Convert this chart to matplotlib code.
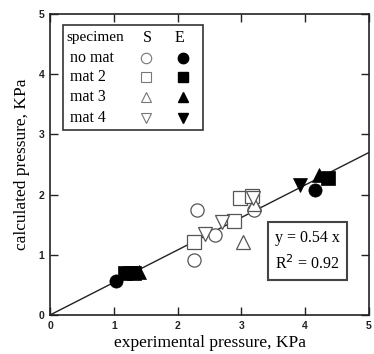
import matplotlib
matplotlib.use("Agg")
import matplotlib.pyplot as plt
import numpy as np
from matplotlib.patches import Rectangle

# ---- data ----
S_nomat_x = [2.31, 2.25, 2.59, 3.20]
S_nomat_y = [1.74, 0.91, 1.33, 1.74]
S_mat2_x = [2.26, 2.88, 2.98, 3.17]
S_mat2_y = [1.21, 1.56, 1.95, 1.97]
S_mat3_x = [3.03, 3.19]
S_mat3_y = [1.21, 1.84]
S_mat4_x = [2.43, 2.69, 3.18]
S_mat4_y = [1.35, 1.55, 1.95]

E_nomat_x = [1.03, 4.15]
E_nomat_y = [0.57, 2.07]
E_mat2_x = [1.18, 1.31, 4.35]
E_mat2_y = [0.69, 0.70, 2.28]
E_mat3_x = [1.40, 4.22]
E_mat3_y = [0.72, 2.32]
E_mat4_x = [1.25, 3.92]
E_mat4_y = [0.70, 2.16]

slope = 0.54
r2 = 0.92
specimens = ["no mat", "mat 2", "mat 3", "mat 4"]
markers = ["o", "s", "^", "v"]
ticks = [0, 1, 2, 3, 4, 5]

serif = ["Liberation Serif", "DejaVu Serif"]
sans = ["Liberation Sans", "DejaVu Sans"]

fig = plt.figure(figsize=(3.74, 3.54), dpi=100)
ax = fig.add_axes([50/374, 39/354, 319/374, 301/354])
ax.set_xlim(0, 5)
ax.set_ylim(0, 5)

# fit line
xl = np.array([0, 5])
ax.plot(xl, slope * xl, color="#222222", lw=1.0, zorder=2)

S_sets = [(S_nomat_x, S_nomat_y), (S_mat2_x, S_mat2_y), (S_mat3_x, S_mat3_y), (S_mat4_x, S_mat4_y)]
E_sets = [(E_nomat_x, E_nomat_y), (E_mat2_x, E_mat2_y), (E_mat3_x, E_mat3_y), (E_mat4_x, E_mat4_y)]
for (x, y), m in zip(S_sets, markers):
    ax.plot(x, y, ls="none", marker=m, ms=9.5, mfc="white", mec="#555555", mew=0.9, zorder=3)
for (x, y), m in zip(E_sets, markers):
    ax.plot(x, y, ls="none", marker=m, ms=9.5, mfc="black", mec="black", mew=0.5, zorder=4)

# axes styling
for s in ax.spines.values():
    s.set_linewidth(1.2)
    s.set_color("#222222")
ax.set_xticks(ticks)
ax.set_yticks(ticks)
ax.tick_params(direction="in", length=6, width=1.0, top=True, right=True,
               labelsize=7.5, pad=4, colors="#222222")
for lab in ax.get_xticklabels() + ax.get_yticklabels():
    lab.set_fontweight("bold")
    lab.set_family(sans)
ax.set_xlabel("experimental pressure, KPa", fontsize=12.5, family=serif, labelpad=3)
ax.set_ylabel("calculated pressure, KPa", fontsize=12.5, family=serif, labelpad=6)

# legend box (axes coords)
def ax_x(px):
    return (px - 50) / 319
def ax_y(py):
    return (315 - py) / 301

ax.add_patch(Rectangle((ax_x(63), ax_y(130)), ax_x(203) - ax_x(63), ax_y(25) - ax_y(130),
                       transform=ax.transAxes, fill=True, fc="white", ec="#333333", lw=1.2, zorder=5))
rows_y = [57.7, 76.7, 96.7, 118]
ax.text(ax_x(66), ax_y(38), "specimen", transform=ax.transAxes, family=serif, fontsize=11,
        va="center", ha="left", zorder=6)
ax.text(ax_x(147), ax_y(38), "S", transform=ax.transAxes, family=serif, fontsize=11.5,
        va="center", ha="center", zorder=6)
ax.text(ax_x(179), ax_y(38), "E", transform=ax.transAxes, family=serif, fontsize=11.5,
        va="center", ha="center", zorder=6)
for name, m, ry in zip(specimens, markers, rows_y):
    ax.text(ax_x(70), ax_y(ry), name, transform=ax.transAxes, family=serif, fontsize=11.5,
            va="center", ha="left", zorder=6)
    ax.plot([ax_x(146)], [ax_y(ry)], transform=ax.transAxes, marker=m, ms=7.5, mfc="white",
            mec="#777777", mew=0.8, ls="none", zorder=6, clip_on=False)
    ax.plot([ax_x(183)], [ax_y(ry)], transform=ax.transAxes, marker=m, ms=7.5, mfc="black",
            mec="black", ls="none", zorder=6, clip_on=False)

# equation box
ax.add_patch(Rectangle((ax_x(268), ax_y(280)), ax_x(347) - ax_x(268), ax_y(222) - ax_y(280),
                       transform=ax.transAxes, fc="white", ec="#444444", lw=1.5, zorder=5))
ax.text(ax_x(307.5), ax_y(238), "y = %.2f x" % slope, transform=ax.transAxes, family=serif,
        fontsize=11.5, va="center", ha="center", zorder=6)
ax.text(ax_x(307.5), ax_y(264), "R$^2$ = %.2f" % r2, transform=ax.transAxes, family=serif,
        fontsize=11.5, va="center", ha="center", zorder=6)

fig.savefig("out.png", dpi=100)
